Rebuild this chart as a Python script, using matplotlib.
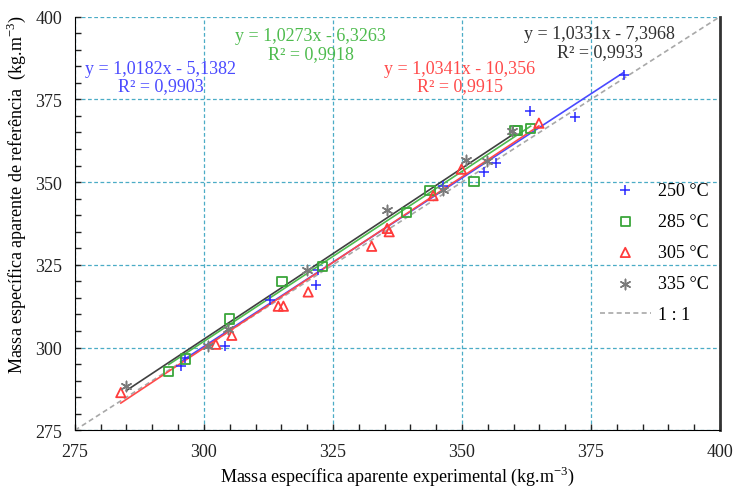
import numpy as np
import matplotlib
matplotlib.use('Agg')
import matplotlib.pyplot as plt
from matplotlib.ticker import MultipleLocator

plt.rcParams['font.family'] = ['Liberation Serif', 'DejaVu Serif']
plt.rcParams['mathtext.fontset'] = 'custom'
plt.rcParams['mathtext.rm'] = 'Liberation Serif'

# 250 °C
x250 = [295.5, 296.3, 304.1, 312.8, 321.7, 322.2, 346.4, 354.3, 356.6, 363.2, 371.8, 381.3]
y250 = [294.3, 296.9, 300.5, 314.4, 318.9, 323.5, 348.9, 352.9, 355.7, 371.5, 369.6, 382.3]
# 285 °C
x285 = [293.2, 296.5, 305.0, 315.1, 323.0, 339.3, 343.8, 352.3, 360.3, 360.7, 363.3]
y285 = [292.8, 296.5, 308.6, 320.0, 324.5, 340.8, 347.4, 350.1, 365.5, 365.5, 366.2]
# 305 °C
x305 = [283.9, 302.3, 305.4, 314.4, 315.4, 320.2, 332.5, 335.5, 335.9, 344.4, 349.9, 364.9]
y305 = [286.4, 301.0, 303.7, 312.5, 312.5, 316.8, 330.6, 336.0, 335.0, 345.9, 353.9, 367.8]
# 335 °C
x335 = [285.0, 300.7, 304.7, 320.0, 335.4, 346.3, 350.8, 354.8, 359.6]
y335 = [288.4, 300.6, 305.6, 323.5, 341.6, 347.6, 356.7, 356.4, 365.5]

labels = ['250 °C', '285 °C', '305 °C', '335 °C']
slopes = [1.0182, 1.0273, 1.0341, 1.0331]
intercepts = [-5.1382, -6.3263, -10.356, -7.3968]
eq_text = ['y = 1,0182x - 5,1382\nR² = 0,9903',
           'y = 1,0273x - 6,3263\nR² = 0,9918',
           'y = 1,0341x - 10,356\nR² = 0,9915',
           'y = 1,0331x - 7,3968\nR² = 0,9933']

xs = [x250, x285, x305, x335]
ys = [y250, y285, y305, y335]
colors = ['#2a2aff', '#3aa63a', '#ff3b3b', '#7a7a7a']
line_colors = ['#4a4aff', '#4dbb4d', '#ff4a4a', '#404040']
markers = ['+', 's', '^', (6, 2, 0)]
text_pos = [(291.6, 381.7), (320.7, 391.6), (349.6, 381.7), (376.7, 392.2)]

fig = plt.figure(figsize=(7.34, 4.89), dpi=100)
ax = fig.add_axes([0.102, 0.118, 0.879, 0.846])

ax.plot([275, 400], [275, 400], ls=(0, (3, 2)), color='#a8a8a8', lw=1.2, label='1 : 1', zorder=2)

handles = []
for i in range(4):
    x = np.array(xs[i])
    xl = np.array([x.min(), x.max()])
    ax.plot(xl, slopes[i] * xl + intercepts[i], color=line_colors[i], lw=1.2, zorder=3)
    if markers[i] == 's' or markers[i] == '^':
        h = ax.scatter(x, ys[i], marker=markers[i], facecolors='none', edgecolors=colors[i],
                       s=45, linewidths=1.3, label=labels[i], zorder=4)
    else:
        h = ax.scatter(x, ys[i], marker=markers[i], color=colors[i], s=55,
                       linewidths=1.1, label=labels[i], zorder=4)
    handles.append(h)
    ax.text(text_pos[i][0], text_pos[i][1], eq_text[i], color=line_colors[i] if i != 3 else '#303030',
            ha='center', va='center', fontsize=13, linespacing=1.05, zorder=5)

ax.set_xlim(275, 400)
ax.set_ylim(275, 400)
ax.xaxis.set_major_locator(MultipleLocator(25))
ax.yaxis.set_major_locator(MultipleLocator(25))
ax.xaxis.set_minor_locator(MultipleLocator(5))
ax.yaxis.set_minor_locator(MultipleLocator(5))
ax.tick_params(which='both', direction='in', length=4, width=1, top=False, right=False,
               labelsize=13, pad=9, colors='#222222')
ax.grid(True, which='major', ls=(0, (3, 2)), color='#4bacc6', lw=0.9)
ax.spines['right'].set_linewidth(2)
ax.spines['right'].set_color('#333333')
ax.spines['top'].set_visible(False)

ax.set_xlabel('Massa específica aparente experimental (kg.m$^{-3}$)', fontsize=13)
ax.set_ylabel('Massa específica aparente de referência  (kg.m$^{-3}$)', fontsize=13)
ax.xaxis.set_label_coords(0.5, -0.08)
ax.yaxis.set_label_coords(-0.072, 0.571)

line_h = ax.get_lines()[0]
leg = ax.legend(handles + [line_h], labels + ['1 : 1'], loc='upper left',
                bbox_to_anchor=(600 / 734, 1 - 183 / 489), bbox_transform=fig.transFigure,
                frameon=False, fontsize=13, borderpad=0, borderaxespad=0,
                handlelength=2.8, handletextpad=0.4, labelspacing=0.78)

fig.savefig('out.png', dpi=100)
